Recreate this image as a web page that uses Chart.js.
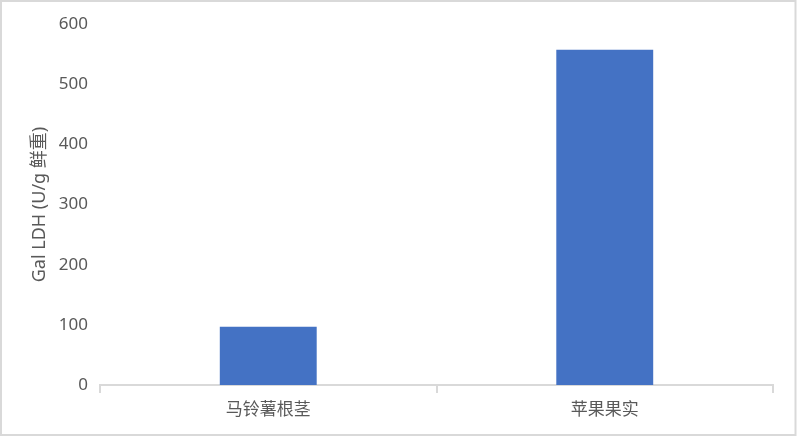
<!DOCTYPE html>
<html>
<head>
<meta charset="utf-8">
<script src="https://cdn.jsdelivr.net/npm/chart.js@4"></script>
<style>
html,body{margin:0;padding:0;background:#fff;}
#wrap{width:797px;height:437px;position:relative;}
</style>
</head>
<body>
<div id="wrap"><canvas id="c" width="797" height="437"></canvas></div>
<script>
const categories = ['马铃薯根茎', '苹果果实'];
const values = [97, 557];
const yTicks = [0, 100, 200, 300, 400, 500, 600];
const yTitle = 'Gal LDH (U/g 鲜重)';

const frame = {
  id: 'frame',
  beforeDraw(chart) {
    const ctx = chart.ctx;
    ctx.save();
    ctx.fillStyle = '#ffffff';
    ctx.fillRect(0, 0, chart.width, chart.height);
    ctx.strokeStyle = '#d9d9d9';
    ctx.lineWidth = 2;
    ctx.strokeRect(1, 1, chart.width - 2.5, chart.height - 3);
    ctx.restore();
  }
};

const font = "'Noto Sans', 'Noto Sans CJK SC', sans-serif";

new Chart(document.getElementById('c'), {
  type: 'bar',
  data: {
    labels: categories,
    datasets: [{
      data: values,
      backgroundColor: '#4472C4',
      borderWidth: 0,
      categoryPercentage: 1,
      barPercentage: 0.288
    }]
  },
  options: {
    responsive: false,
    animation: false,
    devicePixelRatio: 1,
    layout: { padding: { top: 24, right: 24, bottom: 0, left: 0 } },
    plugins: { legend: { display: false }, tooltip: { enabled: false } },
    scales: {
      x: {
        afterFit(s) { s.height = 52; },
        grid: { display: true, drawOnChartArea: false, drawTicks: true, tickLength: 8, color: '#d9d9d9', lineWidth: 2, offset: true },
        border: { display: true, color: '#d9d9d9', width: 2 },
        ticks: { color: '#595959', font: { family: "'Noto Sans CJK SC', sans-serif", size: 17 }, padding: 5 }
      },
      y: {
        min: 0, max: 600,
        afterFit(s) { s.width = 100; },
        afterBuildTicks(s) { s.ticks = yTicks.map(v => ({ value: v })); },
        grid: { display: false, drawTicks: false },
        border: { display: false },
        ticks: { color: '#595959', font: { family: font, size: 17 }, padding: 12 },
        title: { display: true, text: yTitle, color: '#595959', font: { family: font, size: 18 }, padding: { top: 29, bottom: 0 } }
      }
    }
  },
  plugins: [frame]
});
</script>
</body>
</html>
